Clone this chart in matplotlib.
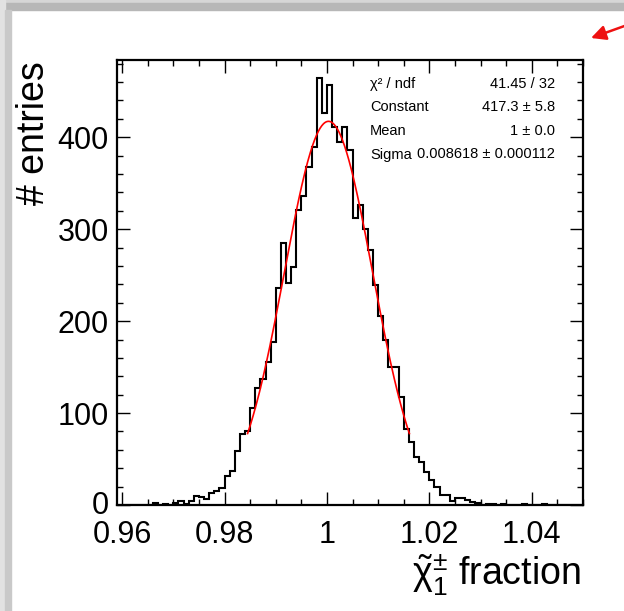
import numpy as np
import matplotlib
matplotlib.use("Agg")
import matplotlib.pyplot as plt
import matplotlib.transforms as mtransforms
from matplotlib.patches import Rectangle
from matplotlib.ticker import FixedLocator, MultipleLocator, FixedFormatter

plt.rcParams['font.family'] = ['Liberation Sans', 'DejaVu Sans']
plt.rcParams['mathtext.fontset'] = 'custom'
plt.rcParams['mathtext.rm'] = 'Liberation Sans'
plt.rcParams['mathtext.it'] = 'Liberation Sans:italic'
plt.rcParams['mathtext.bf'] = 'Liberation Sans:bold'

# ---------------- data ----------------
bin_low = 0.959
bin_width = 0.001
counts = [
    0, 0, 0, 0, 0, 0, 0, 2, 0, 1,          # 0.959 - 0.968
    0, 2, 4, 1, 4, 10, 9, 7, 13, 15,       # 0.969 - 0.978
    18, 31, 37, 59, 77, 80, 105, 127, 137, 156,   # 0.979 - 0.988
    177, 236, 285, 241, 259, 321, 336, 368, 389, 464,  # 0.989 - 0.998
    426, 457, 411, 395, 411, 386, 312, 326, 300, 277,  # 0.999 - 1.008
    239, 206, 179, 150, 150, 117, 83, 69, 52, 47,      # 1.009 - 1.018
    36, 27, 20, 11, 11, 4, 8, 8, 5, 3,                 # 1.019 - 1.028
    2, 0, 1, 1, 0, 1, 0, 0, 0, 1,                      # 1.029 - 1.038
    0, 0, 0, 1, 0, 0, 0, 0, 0, 0,                      # 1.039 - 1.048
    0,                                                 # 1.049
]

fit_constant = 417.3
fit_mean = 1.0003
fit_sigma = 0.008618
fit_low, fit_high = 0.9845, 1.0161

stat_labels = ["χ² / ndf", "Constant", "Mean", "Sigma"]
stat_values = ["41.45 / 32", "417.3 ± 5.8", "1 ± 0.0", "0.008618 ± 0.000112"]

x_ticks = [0.96, 0.98, 1.00, 1.02, 1.04]
x_ticklabels = ["0.96", "0.98", "1", "1.02", "1.04"]
y_ticks = [0, 100, 200, 300, 400]
y_ticklabels = ["0", "100", "200", "300", "400"]

x_title = r"$\tilde{\mathrm{\chi}}_{1}^{\pm}$ fraction"
y_title = "# entries"

# ---------------- figure ----------------
W, H = 624, 611
fig = plt.figure(figsize=(W / 100, H / 100), dpi=100)
fig.patch.set_facecolor("white")

def fx(px):
    return px / W

def fy(py):
    return 1 - py / H

# screenshot frame shading (top and left)
frame = [
    (0, 0, W, 3, "#d6d6d6"),
    (0, 3, W, 7, "#b7b7b7"),
    (0, 0, 5, H, "#e2e2e2"),
    (5, 10, 6, H - 10, "#c9c9c9"),
]
for x0, y0, w, h, c in frame:
    fig.patches.append(Rectangle((fx(x0), fy(y0 + h)), w / W, h / H,
                                 transform=fig.transFigure, color=c, zorder=0))

ax_l, ax_r, ax_t, ax_b = 117, 583, 60, 505
ax = fig.add_axes([fx(ax_l), fy(ax_b), (ax_r - ax_l) / W, (ax_b - ax_t) / H])

edges = bin_low + bin_width * np.arange(len(counts) + 1)
ax.stairs(counts, edges, color="black", lw=1.5, baseline=0)

xf = np.linspace(fit_low, fit_high, 300)
yf = fit_constant * np.exp(-0.5 * ((xf - fit_mean) / fit_sigma) ** 2)
ax.plot(xf, yf, color="#ff0000", lw=1.2)

ax.set_xlim(edges[0], edges[-1])
ax.set_ylim(0, 484)

ax.xaxis.set_major_locator(FixedLocator(x_ticks))
ax.xaxis.set_major_formatter(FixedFormatter(x_ticklabels))
ax.xaxis.set_minor_locator(MultipleLocator(0.005))
ax.yaxis.set_major_locator(FixedLocator(y_ticks))
ax.yaxis.set_major_formatter(FixedFormatter(y_ticklabels))
ax.yaxis.set_minor_locator(MultipleLocator(20))

ax.tick_params(which="both", direction="in", top=True, right=True, width=1.0, color="black")
ax.tick_params(which="major", length=9.5, labelsize=22)
ax.tick_params(which="minor", length=4.5)
ax.tick_params(axis="x", which="major", pad=11)
ax.tick_params(axis="y", which="major", pad=6)
for s in ax.spines.values():
    s.set_linewidth(1.6)

# nudge the y "0" label up slightly so it does not collide with "0.96"
fig.canvas.draw()
zero_lab = ax.yaxis.get_majorticklabels()[0]
zero_lab.set_transform(zero_lab.get_transform() +
                       mtransforms.ScaledTranslation(0, 3 / 100, fig.dpi_scale_trans))

# axis titles
fig.text(fx(34), fy(133), y_title, rotation=90, ha="center", va="center", fontsize=27)
fig.text(fx(581), fy(585), x_title, ha="right", va="baseline", fontsize=27)

# stats box
stat_y = [88, 111.5, 135, 158.5]
for lab, val, yy in zip(stat_labels, stat_values, stat_y):
    fig.text(fx(370), fy(yy), lab, ha="left", va="baseline", fontsize=10.5)
    fig.text(fx(555), fy(yy), val, ha="right", va="baseline", fontsize=10.5)

# red arrow at top right
ax.annotate("", xy=(591, H - 38), xycoords="figure pixels",
            xytext=(630, H - 24), textcoords="figure pixels",
            arrowprops=dict(arrowstyle="-|>", color="#ee1111", lw=1.8,
                            mutation_scale=22, shrinkA=0, shrinkB=0),
            annotation_clip=False)

fig.savefig("out.png", dpi=100)
